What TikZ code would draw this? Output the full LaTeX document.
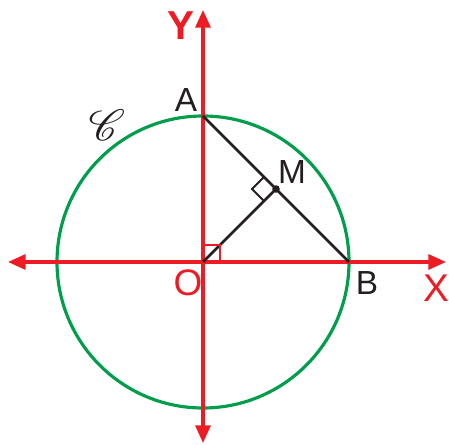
\documentclass[tikz,border=0pt]{standalone}
\usepackage{fontspec}
\setmainfont{Liberation Sans}
\usepackage{mathrsfs}
\usetikzlibrary{arrows.meta}
\definecolor{axisred}{RGB}{237,28,36}
\definecolor{circgreen}{RGB}{0,158,75}
\definecolor{inkgray}{RGB}{35,31,32}

\begin{document}
\begin{tikzpicture}[
    x=0.02cm, y=0.02cm,
    % Axes with arrow tips on both ends
    axis/.style={draw=axisred, line width=1.8pt,
                 {Triangle[length=10pt, width=8.5pt]}-{Triangle[length=10pt, width=8.5pt]}},
    circ/.style={draw=circgreen, line width=1.8pt},
    seg/.style={draw=inkgray, line width=1.6pt},
    % Right-angle marks
    rmark/.style={line width=1.2pt},
    % Labels
    lbl/.style={text=inkgray, font=\fontsize{19}{22}\selectfont, inner sep=0pt},
    albl/.style={text=axisred, font=\fontsize{19}{22}\selectfont, inner sep=0pt},
]

% O at origin, circle radius = 146 units
\useasboundingbox (-203,-183) rectangle (246,262);

%% ── Points ──
\coordinate (O) at (0,0);
\coordinate (A) at (0,146);
\coordinate (B) at (146,0);
\coordinate (M) at (73,73);
\coordinate (xl) at (-195,0);
\coordinate (xr) at (243,0);
\coordinate (yb) at (0,-181);
\coordinate (yt) at (0,252);

%% ── Circle ──
\draw[circ] (O) circle (146);

%% ── Axes ──
\draw[axis] (xl) -- (xr);
\draw[axis] (yb) -- (yt);

%% ── Segments ──
\draw[seg] (A) -- (B);
\draw[seg] (O) -- (M);
\fill[inkgray] (M) circle (3.8);

%% ── Right angles ──
\draw[rmark, axisred] (0,17) -- (17,17) -- (17,0);
\draw[rmark, inkgray] (61,85) -- (49,73) -- (61,61);

%% ── Labels ──
\node[albl, font=\fontsize{23}{26}\selectfont\bfseries] (ly) at (-22,236) {Y};
\node[albl, font=\fontsize{22}{25}\selectfont] (lx) at (233,-26) {X};
\node[albl, font=\fontsize{21}{24}\selectfont] (lo) at (-15,-21) {O};
\node[lbl]  (la) at (-17,162) {A};
\node[lbl]  (lb) at (164,-21) {B};
\node[lbl]  (lm) at (89,90) {M};
\node[lbl, font=\fontsize{26}{28}\selectfont] (lc) at (-96,137) {$\mathscr{C}$};

\end{tikzpicture}
\end{document}
